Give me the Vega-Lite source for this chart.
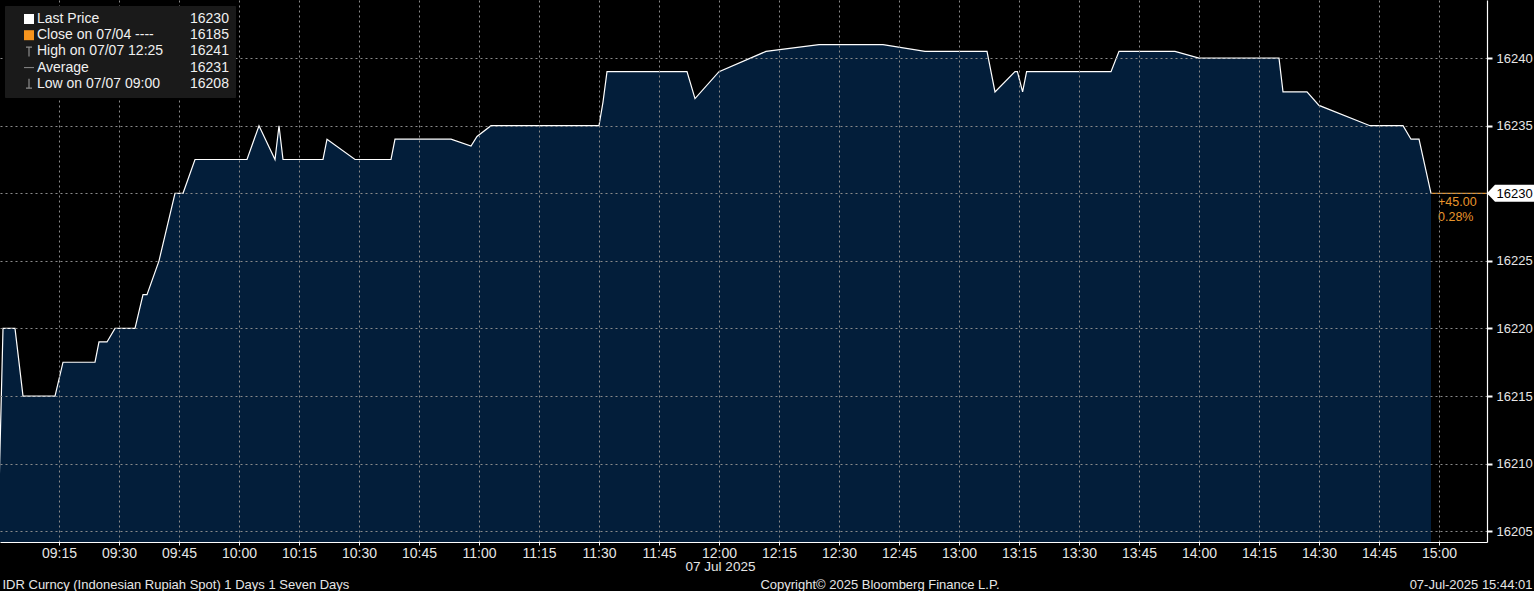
{
  "$schema": "https://vega.github.io/schema/vega-lite/v6.json",
  "width": 1487,
  "height": 542,
  "autosize": {"type": "pad"},
  "padding": 0,
  "background": "#000000",
  "config": {"view": {"stroke": null}, "font": "Liberation Sans"},
  "datasets": {
    "series": [
      {"t": "2025-07-07T09:00:00", "v": 16208},
      {"t": "2025-07-07T09:01:00", "v": 16220},
      {"t": "2025-07-07T09:04:00", "v": 16220},
      {"t": "2025-07-07T09:06:00", "v": 16215},
      {"t": "2025-07-07T09:14:00", "v": 16215},
      {"t": "2025-07-07T09:16:00", "v": 16217.5},
      {"t": "2025-07-07T09:24:00", "v": 16217.5},
      {"t": "2025-07-07T09:25:00", "v": 16219},
      {"t": "2025-07-07T09:27:00", "v": 16219},
      {"t": "2025-07-07T09:29:00", "v": 16220},
      {"t": "2025-07-07T09:34:00", "v": 16220},
      {"t": "2025-07-07T09:36:00", "v": 16222.5},
      {"t": "2025-07-07T09:37:00", "v": 16222.5},
      {"t": "2025-07-07T09:40:00", "v": 16225},
      {"t": "2025-07-07T09:44:00", "v": 16230},
      {"t": "2025-07-07T09:46:00", "v": 16230},
      {"t": "2025-07-07T09:49:00", "v": 16232.5},
      {"t": "2025-07-07T10:02:00", "v": 16232.5},
      {"t": "2025-07-07T10:05:00", "v": 16235},
      {"t": "2025-07-07T10:09:00", "v": 16232.5},
      {"t": "2025-07-07T10:10:00", "v": 16235},
      {"t": "2025-07-07T10:11:00", "v": 16232.5},
      {"t": "2025-07-07T10:21:00", "v": 16232.5},
      {"t": "2025-07-07T10:22:00", "v": 16234},
      {"t": "2025-07-07T10:29:00", "v": 16232.5},
      {"t": "2025-07-07T10:38:00", "v": 16232.5},
      {"t": "2025-07-07T10:39:00", "v": 16234},
      {"t": "2025-07-07T10:53:00", "v": 16234},
      {"t": "2025-07-07T10:58:00", "v": 16233.5},
      {"t": "2025-07-07T10:59:30", "v": 16234.2},
      {"t": "2025-07-07T11:03:00", "v": 16235},
      {"t": "2025-07-07T11:30:00", "v": 16235},
      {"t": "2025-07-07T11:31:00", "v": 16236.75},
      {"t": "2025-07-07T11:32:00", "v": 16239},
      {"t": "2025-07-07T11:52:00", "v": 16239},
      {"t": "2025-07-07T11:54:00", "v": 16237},
      {"t": "2025-07-07T12:00:00", "v": 16239},
      {"t": "2025-07-07T12:11:45", "v": 16240.5},
      {"t": "2025-07-07T12:25:00", "v": 16241},
      {"t": "2025-07-07T12:41:00", "v": 16241},
      {"t": "2025-07-07T12:51:30", "v": 16240.5},
      {"t": "2025-07-07T13:07:00", "v": 16240.5},
      {"t": "2025-07-07T13:09:00", "v": 16237.5},
      {"t": "2025-07-07T13:14:00", "v": 16239},
      {"t": "2025-07-07T13:14:36", "v": 16239},
      {"t": "2025-07-07T13:15:54", "v": 16237.5},
      {"t": "2025-07-07T13:16:54", "v": 16239},
      {"t": "2025-07-07T13:38:00", "v": 16239},
      {"t": "2025-07-07T13:40:00", "v": 16240.5},
      {"t": "2025-07-07T13:54:00", "v": 16240.5},
      {"t": "2025-07-07T14:00:00", "v": 16240},
      {"t": "2025-07-07T14:20:00", "v": 16240},
      {"t": "2025-07-07T14:21:00", "v": 16237.5},
      {"t": "2025-07-07T14:27:00", "v": 16237.5},
      {"t": "2025-07-07T14:30:00", "v": 16236.5},
      {"t": "2025-07-07T14:42:45", "v": 16235},
      {"t": "2025-07-07T14:51:00", "v": 16235},
      {"t": "2025-07-07T14:53:00", "v": 16234},
      {"t": "2025-07-07T14:55:00", "v": 16234},
      {"t": "2025-07-07T14:58:00", "v": 16230}
    ],
    "last": [
      {"t": "2025-07-07T14:58:00", "v": 16230, "chg": "+45.00", "pct": "0.28%"}
    ],
    "items": [
      {"label": "Last Price", "val": "16230"},
      {"label": "Close on 07/04 ----", "val": "16185"},
      {"label": "High on 07/07 12:25", "val": "16241"},
      {"label": "Average", "val": "16231"},
      {"label": "Low on 07/07 09:00", "val": "16208"}
    ]
  },
  "layer": [
    {
      "data": {"name": "series"},
      "layer": [
        {
          "mark": {"type": "area", "color": "#031E3A", "clip": true},
          "encoding": {
            "x": {
              "field": "t", "type": "temporal",
              "scale": {"domain": [
                {"year": 2025, "month": 7, "date": 7, "hours": 9, "minutes": 0, "seconds": 15},
                {"year": 2025, "month": 7, "date": 7, "hours": 15, "minutes": 12}
              ]},
              "axis": {
                "orient": "bottom", "format": "%H:%M",
                "values": [
                  {"year": 2025, "month": 7, "date": 7, "hours": 9, "minutes": 15},
                  {"year": 2025, "month": 7, "date": 7, "hours": 9, "minutes": 30},
                  {"year": 2025, "month": 7, "date": 7, "hours": 9, "minutes": 45},
                  {"year": 2025, "month": 7, "date": 7, "hours": 10, "minutes": 0},
                  {"year": 2025, "month": 7, "date": 7, "hours": 10, "minutes": 15},
                  {"year": 2025, "month": 7, "date": 7, "hours": 10, "minutes": 30},
                  {"year": 2025, "month": 7, "date": 7, "hours": 10, "minutes": 45},
                  {"year": 2025, "month": 7, "date": 7, "hours": 11, "minutes": 0},
                  {"year": 2025, "month": 7, "date": 7, "hours": 11, "minutes": 15},
                  {"year": 2025, "month": 7, "date": 7, "hours": 11, "minutes": 30},
                  {"year": 2025, "month": 7, "date": 7, "hours": 11, "minutes": 45},
                  {"year": 2025, "month": 7, "date": 7, "hours": 12, "minutes": 0},
                  {"year": 2025, "month": 7, "date": 7, "hours": 12, "minutes": 15},
                  {"year": 2025, "month": 7, "date": 7, "hours": 12, "minutes": 30},
                  {"year": 2025, "month": 7, "date": 7, "hours": 12, "minutes": 45},
                  {"year": 2025, "month": 7, "date": 7, "hours": 13, "minutes": 0},
                  {"year": 2025, "month": 7, "date": 7, "hours": 13, "minutes": 15},
                  {"year": 2025, "month": 7, "date": 7, "hours": 13, "minutes": 30},
                  {"year": 2025, "month": 7, "date": 7, "hours": 13, "minutes": 45},
                  {"year": 2025, "month": 7, "date": 7, "hours": 14, "minutes": 0},
                  {"year": 2025, "month": 7, "date": 7, "hours": 14, "minutes": 15},
                  {"year": 2025, "month": 7, "date": 7, "hours": 14, "minutes": 30},
                  {"year": 2025, "month": 7, "date": 7, "hours": 14, "minutes": 45},
                  {"year": 2025, "month": 7, "date": 7, "hours": 15, "minutes": 0}
                ],
                "labelFontSize": 14, "labelColor": "#e6e6e6", "labelPadding": 1,
                "labelFlush": false, "labelOverlap": false,
                "tickSize": 3, "tickColor": "#ffffff",
                "domainColor": "#ffffff", "domainWidth": 1.2,
                "grid": true, "gridColor": "#8a8a8a", "gridDash": [2, 3], "gridWidth": 1,
                "title": "07 Jul 2025", "titleFontSize": 13.5, "titleFontWeight": "normal",
                "titleColor": "#e6e6e6", "titleX": 720, "titleY": 24,
                "titleBaseline": "middle", "titleAlign": "center",
                "zindex": 1
              }
            },
            "y": {
              "field": "v", "type": "quantitative",
              "scale": {"domain": [16204.2, 16244.3], "zero": false, "nice": false},
              "axis": {
                "orient": "right",
                "values": [16205, 16207.5, 16210, 16212.5, 16215, 16217.5, 16220, 16222.5, 16225, 16227.5, 16230, 16232.5, 16235, 16237.5, 16240, 16242.5],
                "labelExpr": "datum.value % 5 == 0 ? format(datum.value, 'd') : ''",
                "labelFontSize": 13,
                "labelColor": {"condition": {"test": "datum.value == 16230", "value": "#000000"}, "value": "#e6e6e6"},
                "labelPadding": 4,
                "tickSize": 5,
                "tickWidth": 2,
                "tickColor": "#ffffff", "domainColor": "#ffffff", "domainWidth": 1.2,
                "grid": true,
                "gridOpacity": {"condition": {"test": "datum.value % 5 == 0", "value": 1}, "value": 0},
                "gridColor": "#8a8a8a", "gridDash": [2, 3], "gridWidth": 1,
                "title": "07-Jul-2025 15:44:01", "titleAngle": 0, "titleX": 45, "titleY": 584,
                "titleAlign": "right", "titleBaseline": "middle", "titleFontSize": 13,
                "titleFontWeight": "normal", "titleColor": "#e6e6e6",
                "zindex": 1
              }
            },
            "y2": {"datum": 16204.2}
          }
        },
        {
          "mark": {"type": "line", "color": "#ffffff", "strokeWidth": 1.2, "clip": true},
          "encoding": {
            "x": {"field": "t", "type": "temporal"},
            "y": {"field": "v", "type": "quantitative"}
          }
        }
      ]
    },
    {
      "data": {"name": "last"},
      "layer": [
        {
          "mark": {"type": "rule", "color": "#E8952C", "strokeWidth": 1.2},
          "encoding": {
            "x": {
              "field": "t", "type": "temporal",
              "scale": {"domain": [
                {"year": 2025, "month": 7, "date": 7, "hours": 9, "minutes": 0, "seconds": 15},
                {"year": 2025, "month": 7, "date": 7, "hours": 15, "minutes": 12}
              ]},
              "axis": {
                "orient": "top", "labels": false, "ticks": false, "domain": false, "grid": false,
                "title": "Copyright© 2025 Bloomberg Finance L.P.",
                "titleX": 879.5, "titleY": 584, "titleAlign": "center", "titleBaseline": "middle",
                "titleFontSize": 13, "titleFontWeight": "normal", "titleColor": "#e6e6e6"
              }
            },
            "x2": {"datum": {"year": 2025, "month": 7, "date": 7, "hours": 15, "minutes": 12}},
            "y": {
              "field": "v", "type": "quantitative",
              "scale": {"domain": [16204.2, 16244.3], "zero": false, "nice": false},
              "axis": {
                "orient": "left", "labels": false, "ticks": false, "domain": false, "grid": false,
                "title": "IDR Curncy (Indonesian Rupiah Spot) 1 Days 1 Seven Days",
                "titleAngle": 0, "titleX": 2, "titleY": 584, "titleAlign": "left", "titleBaseline": "middle",
                "titleFontSize": 13, "titleFontWeight": "normal", "titleColor": "#e6e6e6"
              }
            }
          }
        },
        {
          "mark": {"type": "point", "shape": "M0,0L0.8,-0.85L4.7,-0.85L4.7,0.85L0.8,0.85Z", "size": 400, "filled": true, "color": "#ffffff", "opacity": 1},
          "encoding": {
            "x": {"field": "t", "type": "temporal", "timeUnit": null, "bandPosition": 0, "scale": {"domain": [
                {"year": 2025, "month": 7, "date": 7, "hours": 9, "minutes": 0, "seconds": 15},
                {"year": 2025, "month": 7, "date": 7, "hours": 15, "minutes": 12}
              ]}},
            "xOffset": {"value": 56},
            "y": {"field": "v", "type": "quantitative"}
          }
        },
        {
          "mark": {"type": "text", "align": "left", "baseline": "middle", "dx": 7, "dy": 8.5, "color": "#E8952C", "fontSize": 12.5},
          "encoding": {
            "x": {"field": "t", "type": "temporal"},
            "y": {"field": "v", "type": "quantitative"},
            "text": {"field": "chg"}
          }
        },
        {
          "mark": {"type": "text", "align": "left", "baseline": "middle", "dx": 7, "dy": 24, "color": "#E8952C", "fontSize": 12.5},
          "encoding": {
            "x": {"field": "t", "type": "temporal"},
            "y": {"field": "v", "type": "quantitative"},
            "text": {"field": "pct"}
          }
        }
      ]
    },
    {
      "data": {"name": "items"},
      "transform": [{"fold": ["label", "val"], "as": ["k", "entry"]}],
      "mark": {"type": "point", "filled": true, "size": 0, "strokeWidth": 0, "opacity": 1},
      "encoding": {
        "color": {
          "field": "entry", "type": "nominal", "sort": null,
          "scale": {"range": ["#ffffff", "transparent", "#F7941D", "transparent", "#8c8c8c", "transparent", "#8c8c8c", "transparent", "#8c8c8c", "transparent"]},
          "legend": {
            "title": null, "orient": "none", "legendX": 5, "legendY": 6,
            "direction": "horizontal",
            "columns": 2, "columnPadding": -69, "rowPadding": 2.2, "padding": 6,
            "fillColor": "#1a1a1a", "strokeColor": "#1a1a1a",
            "symbolOffset": 11, "symbolSize": 100, "symbolOpacity": 1, "symbolStrokeWidth": 0,
            "labelOffset": 1, "labelFont": "Liberation Sans", "labelFontSize": 14,
            "labelColor": "#f0f0f0", "labelLimit": 400, "zindex": 2
          }
        },
        "shape": {
          "field": "entry", "type": "nominal", "sort": null,
          "scale": {"range": ["square", "square", "square", "square", "M-0.6,-1H0.6V-0.75H0.12V1H-0.12V-0.75H-0.6Z", "square", "M-1,-0.1H1V0.1H-1Z", "square", "M-0.12,-1H0.12V0.75H0.6V1H-0.6V0.75H-0.12Z", "square"]}
        }
      }
    }
  ],
  "resolve": {"axis": {"x": "independent", "y": "independent"}}
}
